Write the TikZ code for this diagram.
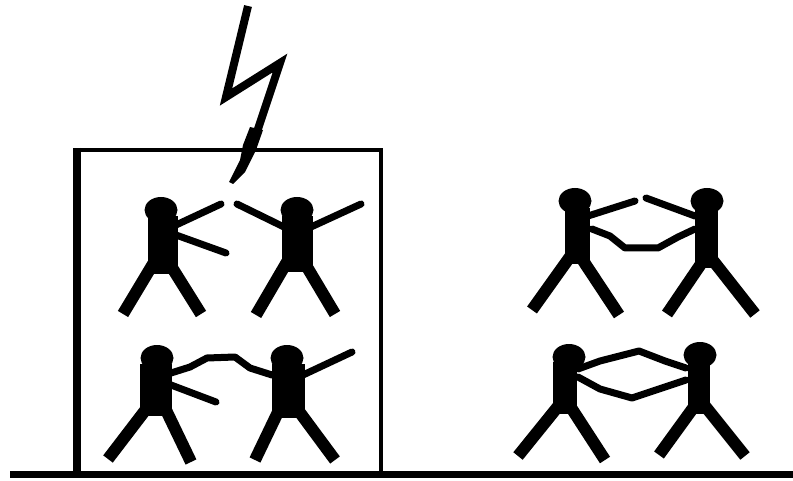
\documentclass[tikz,border=0pt]{standalone}
\usepackage{tikz}

% head centre, torso corners, hip and foot of each leg
\newcommand{\person}[7]{
    \fill #1 ellipse [x radius=16.5, y radius=13];
    \fill #2 rectangle #3;
    \draw[leg] #4 -- #5;
    \draw[leg] #6 -- #7;
}

\begin{document}
\begin{tikzpicture}[
    x=1pt, y=-1pt,
    leg/.style={line width=12pt, black},
    arm/.style={line width=7pt, line cap=round, black, line join=round},
    wall/.style={line width=4pt, black},
]
\useasboundingbox (0,0) rectangle (793,481);

% house and ground
\draw[wall] (73,150) -- (381,150) -- (381,472);
\draw[wall, line width=8pt] (77,148) -- (77,472);
\draw[line width=7pt] (10,474) -- (793,474);

% lightning
\draw[line width=8pt, line join=miter] (248,6) -- (226,97) -- (280,63) -- (256,135);
\fill (250,127) -- (263,130) -- (256,150) -- (245,172) -- (233,184) -- (229,182) -- (240,160) -- (243,145) -- cycle;

% inside, upper pair
\person{(161,210)}{(148,216)}{(178,274)}{(153,264)}{(123,314)}{(171,266)}{(201,314)}
\draw[arm] (176,225) -- (221,204);
\draw[arm] (176,235) -- (226,253);
\person{(297,210)}{(282,216)}{(313,272)}{(287,262)}{(256,315)}{(304,262)}{(335,314)}
\draw[arm] (284,227) -- (237,204);
\draw[arm] (311,227) -- (361,204);

% inside, lower pair
\person{(157,358)}{(140,364)}{(172,416)}{(147,408)}{(108,459)}{(165,408)}{(191,462)}
\draw[arm] (171,373) -- (190,367) -- (207,358) -- (235,357) -- (250,368) -- (272,375);
\draw[arm] (171,385) -- (216,402);
\person{(287,358)}{(272,364)}{(305,418)}{(279,410)}{(255,460)}{(298,410)}{(335,460)}
\draw[arm] (303,375) -- (352,352);

% outside, upper pair
\person{(575,201)}{(565,208)}{(590,264)}{(572,254)}{(532,310)}{(580,256)}{(619,315)}
\draw[arm] (588,216) -- (635,201);
\draw[arm] (592,229) -- (610,236) -- (625,248) -- (658,248) -- (678,237) -- (695,229);
\person{(707,201)}{(695,208)}{(718,268)}{(705,258)}{(667,314)}{(711,258)}{(755,314)}
\draw[arm] (695,216) -- (646,198);

% outside, lower pair
\person{(569,357)}{(553,362)}{(577,414)}{(560,404)}{(518,456)}{(570,406)}{(605,460)}
\draw[arm] (578,369) -- (600,361) -- (639,351) -- (665,361) -- (686,368);
\draw[arm] (578,377) -- (600,389) -- (632,398) -- (662,388) -- (686,380);
\person{(700,355)}{(688,360)}{(710,414)}{(696,404)}{(659,455)}{(705,406)}{(745,456)}
\end{tikzpicture}
\end{document}
